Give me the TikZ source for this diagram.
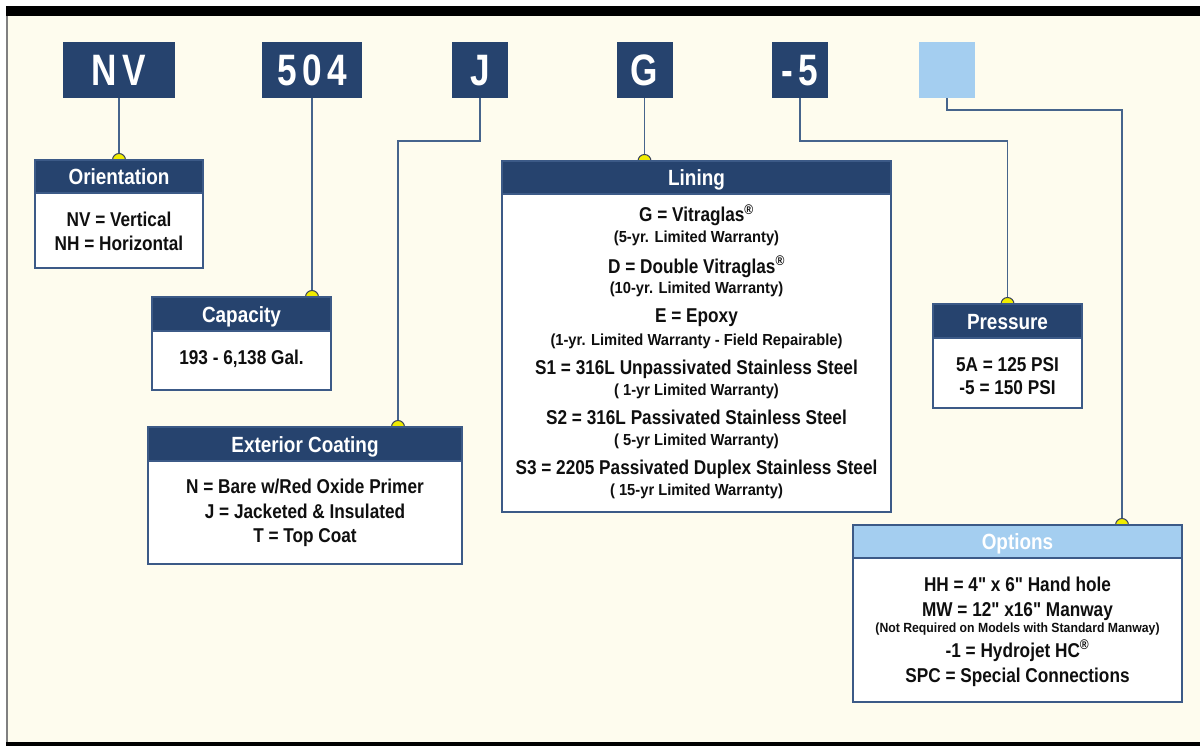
\documentclass[tikz,border=0pt]{standalone}
\usepackage{fontspec}
\setmainfont{Liberation Sans}[FakeStretch=0.86]
\newfontfamily\codefont{Liberation Sans}[FakeStretch=0.8,LetterSpace=12]
\newfontfamily\smallfont{Liberation Sans}[FakeStretch=0.92]
\newfontfamily\qfont{Liberation Sans}[FakeStretch=0.86]
\newcommand\inchmark{{\qfont\char"22\relax}}
\definecolor{navy}{RGB}{38,67,110}
\definecolor{lightblue}{RGB}{164,206,240}
\definecolor{cream}{RGB}{254,252,238}
\definecolor{connc}{RGB}{70,100,140}
\definecolor{boxline}{RGB}{60,90,135}
\definecolor{dotyel}{RGB}{240,236,0}
\definecolor{dotline}{RGB}{60,70,90}
\definecolor{ink}{RGB}{15,15,15}
\pgfdeclarelayer{back}
\pgfdeclarelayer{bg}
\pgfsetlayers{back,bg,main}
\tikzset{
  codebox/.style={fill=navy, text=white, minimum width=56, minimum height=56, inner sep=0, outer sep=0,
    font=\codefont\bfseries\fontsize{44}{44}\selectfont, text height=32, text depth=0},
  bodybox/.style={draw=boxline, fill=white, line width=1.5, inner sep=0, outer sep=0, anchor=north west},
  hdr/.style={fill=navy, draw=boxline, line width=1.5, text=white, inner sep=0, outer sep=0, anchor=north west,
    font=\bfseries\fontsize{22}{22}\selectfont, text height=16, text depth=0},
  bigtxt/.style={anchor=base, inner sep=0, text=ink, font=\bfseries\fontsize{20}{20}\selectfont},
  smalltxt/.style={anchor=base, inner sep=0, text=ink, font=\smallfont\bfseries\fontsize{16}{16}\selectfont},
  tinytxt/.style={anchor=base, inner sep=0, text=ink, font=\smallfont\bfseries\fontsize{13.3}{13.3}\selectfont},
  conn/.style={draw=connc, line width=1.5},
  ydot/.style={fill=dotyel, draw=dotline, line width=1}
}
\begin{document}
\begin{tikzpicture}[x=1pt,y=-1pt]
\useasboundingbox (0,0) rectangle (1200,746);
% code boxes
\node[codebox, minimum width=112] (nv) at (119,70) {NV};
\node[codebox, minimum width=100] (c504) at (312,70) {504};
\node[codebox] (cj) at (480,70) {J};
\node[codebox] (cg) at (644.5,70) {G};
\node[codebox] (c5) at (800,70) {-5};
\node[codebox, fill=lightblue] (copt) at (947,70) {};
% Orientation
\node[bodybox, minimum width=168, minimum height=108] (orient) at (35,160) {};
\node[hdr, minimum width=168, minimum height=33] (orientH) at (35,160) {Orientation};
\node[bigtxt] (o1) at (119,227) {NV = Vertical};
\node[bigtxt] (o2) at (119,251) {NH = Horizontal};
% Capacity
\node[bodybox, minimum width=179, minimum height=93] (cap) at (152,297) {};
\node[hdr, minimum width=179, minimum height=34] (capH) at (152,297) {Capacity};
\node[bigtxt] (c1) at (241.5,364) {193 - 6,138 Gal.};
% Exterior coating
\node[bodybox, minimum width=314, minimum height=137] (ext) at (148,427) {};
\node[hdr, minimum width=314, minimum height=34] (extH) at (148,427) {Exterior Coating};
\node[bigtxt] (e1) at (305,493) {N = Bare w/Red Oxide Primer};
\node[bigtxt] (e2) at (305,518) {J = Jacketed \& Insulated};
\node[bigtxt] (e3) at (305,542) {T = Top Coat};
% Lining
\node[bodybox, minimum width=389, minimum height=351] (lin) at (502,161) {};
\node[hdr, minimum width=389, minimum height=33] (linH) at (502,161) {Lining};
\node[bigtxt] (l1) at (696.5,222) {G = Vitraglas\textsuperscript{®}};
\node[smalltxt] (l1s) at (696.5,243) {(5-yr. Limited Warranty)};
\node[bigtxt] (l2) at (696.5,273) {D = Double Vitraglas\textsuperscript{®}};
\node[smalltxt] (l2s) at (696.5,294) {(10-yr. Limited Warranty)};
\node[bigtxt] (l3) at (696.5,323) {E = Epoxy};
\node[smalltxt] (l3s) at (696.5,345) {(1-yr. Limited Warranty - Field Repairable)};
\node[bigtxt] (l4) at (696.5,374) {S1 = 316L Unpassivated Stainless Steel};
\node[smalltxt] (l4s) at (696.5,395) {( 1-yr Limited Warranty)};
\node[bigtxt] (l5) at (696.5,424) {S2 = 316L Passivated Stainless Steel};
\node[smalltxt] (l5s) at (696.5,445) {( 5-yr Limited Warranty)};
\node[bigtxt] (l6) at (696.5,474) {S3 = 2205 Passivated Duplex Stainless Steel};
\node[smalltxt] (l6s) at (696.5,495) {( 15-yr Limited Warranty)};
% Pressure
\node[bodybox, minimum width=149, minimum height=104] (pres) at (933,304) {};
\node[hdr, minimum width=149, minimum height=34] (presH) at (933,304) {Pressure};
\node[bigtxt] (p1) at (1007.5,371) {5A = 125 PSI};
\node[bigtxt] (p2) at (1007.5,394) {-5 = 150 PSI};
% Options
\node[bodybox, minimum width=329, minimum height=177] (opt) at (853,525) {};
\node[hdr, fill=lightblue, minimum width=329, minimum height=33] (optH) at (853,525) {Options};
\node[bigtxt] (q1) at (1017.5,591) {HH = 4\inchmark{} x 6\inchmark{} Hand hole};
\node[bigtxt] (q2) at (1017.5,616) {MW = 12\inchmark{} x16\inchmark{} Manway};
\node[tinytxt] (q2s) at (1017.5,632) {(Not Required on Models with Standard Manway)};
\node[bigtxt] (q3) at (1017.5,657) {-1 = Hydrojet HC\textsuperscript{®}};
\node[bigtxt] (q4) at (1017.5,682) {SPC = Special Connections};
% turning points
\coordinate (jturn) at (398,141);
\coordinate (pturn) at (1007.5,141);
\coordinate (oturn) at (1122,110);
\begin{pgfonlayer}{back}
\fill[white] (0,0) rectangle (1200,746);
\fill[cream] (8,16) rectangle (1200,742);
\fill[black] (6,6) rectangle (1200,16);
\fill[black] (6,742) rectangle (1200,746);
\fill[gray] (6,16) rectangle (8,742);
\end{pgfonlayer}
\begin{pgfonlayer}{bg}
\draw[conn] (nv.south) -- (orient.north);
\draw[conn] (c504.south) -- (c504.south |- cap.north);
\draw[conn] (cj.south) |- (jturn) -- (jturn |- ext.north);
\draw[conn] (cg.south) -- (cg.south |- lin.north);
\draw[conn] (c5.south) |- (pturn) -- (pturn |- pres.north);
\draw[conn] (copt.south) |- (oturn) -- (oturn |- opt.north);
\filldraw[ydot] (orient.north) circle[radius=6.5];
\filldraw[ydot] (c504.south |- cap.north) circle[radius=6.5];
\filldraw[ydot] (jturn |- ext.north) circle[radius=6.5];
\filldraw[ydot] (cg.south |- lin.north) circle[radius=6.5];
\filldraw[ydot] (pturn |- pres.north) circle[radius=6.5];
\filldraw[ydot] (oturn |- opt.north) circle[radius=6.5];
\end{pgfonlayer}
\end{tikzpicture}
\end{document}
